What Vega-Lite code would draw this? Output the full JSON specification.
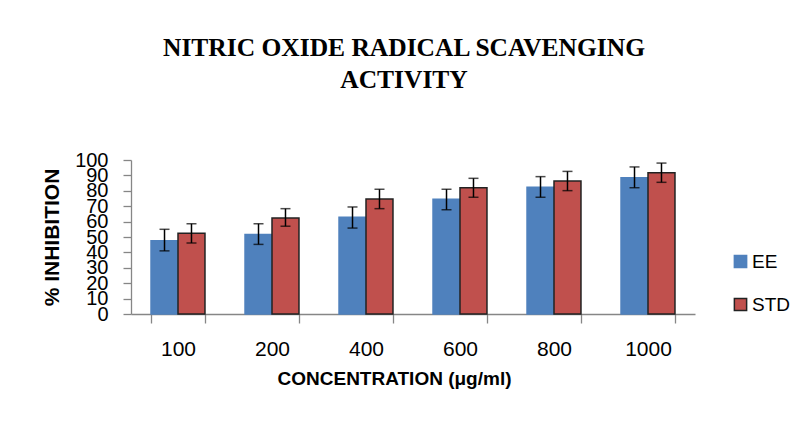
{
  "$schema": "https://vega.github.io/schema/vega-lite/v6.json",
  "autosize": {"type": "none"},
  "padding": {"left": 131, "top": 160, "right": 100, "bottom": 109},
  "width": 564,
  "height": 154,
  "background": "white",
  "title": {
    "text": ["NITRIC OXIDE RADICAL SCAVENGING", "ACTIVITY"],
    "font": "Liberation Serif",
    "fontSize": 25.5,
    "fontWeight": "bold",
    "lineHeight": 32,
    "color": "#000000",
    "anchor": "middle",
    "frame": "group",
    "dx": -9,
    "offset": 57
  },
  "data": {
    "values": [
      {"conc": "100", "group": "EE", "value": 47.6, "lo": 41.0, "hi": 55.0},
      {"conc": "100", "group": "STD", "value": 52.4, "lo": 46.1, "hi": 58.6},
      {"conc": "200", "group": "EE", "value": 51.7, "lo": 45.2, "hi": 58.6},
      {"conc": "200", "group": "STD", "value": 62.3, "lo": 57.0, "hi": 68.4},
      {"conc": "400", "group": "EE", "value": 62.8, "lo": 55.8, "hi": 69.5},
      {"conc": "400", "group": "STD", "value": 74.7, "lo": 68.4, "hi": 81.0},
      {"conc": "600", "group": "EE", "value": 74.5, "lo": 67.7, "hi": 81.0},
      {"conc": "600", "group": "STD", "value": 82.0, "lo": 75.8, "hi": 88.1},
      {"conc": "800", "group": "EE", "value": 82.3, "lo": 75.8, "hi": 89.2},
      {"conc": "800", "group": "STD", "value": 86.4, "lo": 80.1, "hi": 92.6},
      {"conc": "1000", "group": "EE", "value": 88.5, "lo": 82.0, "hi": 95.5},
      {"conc": "1000", "group": "STD", "value": 91.8, "lo": 85.5, "hi": 98.0}
    ]
  },
  "encoding": {
    "x": {
      "field": "conc",
      "type": "ordinal",
      "sort": ["100", "200", "400", "600", "800", "1000"],
      "scale": {"paddingInner": 0.426, "paddingOuter": 0.213},
      "axis": {
        "title": "CONCENTRATION (μg/ml)",
        "titleFont": "Liberation Sans",
        "titleFontSize": 19,
        "titleFontWeight": "bold",
        "titleColor": "#000000",
        "titlePadding": 10,
        "titleX": 263,
        "labelFont": "Liberation Sans",
        "labelFontSize": 21,
        "labelColor": "#000000",
        "labelAngle": 0,
        "labelPadding": 15,
        "tickBand": "extent",
        "tickSize": 9,
        "tickColor": "#868686",
        "domainColor": "#868686",
        "domainWidth": 1.3,
        "tickWidth": 1.3
      }
    },
    "xOffset": {
      "field": "group",
      "type": "nominal",
      "scale": {"domain": ["EE", "STD"], "paddingInner": 0, "paddingOuter": 0}
    }
  },
  "layer": [
    {
      "mark": {"type": "bar", "strokeWidth": 1.5},
      "encoding": {
        "y": {
          "field": "value",
          "type": "quantitative",
          "scale": {"domain": [0, 100], "nice": false},
          "axis": {
            "title": "% INHIBITION",
            "titleFont": "Liberation Sans",
            "titleFontSize": 21,
            "titleFontWeight": "bold",
            "titleColor": "#000000",
            "titlePadding": 12,
            "values": [0, 10, 20, 30, 40, 50, 60, 70, 80, 90, 100],
            "labelFont": "Liberation Sans",
            "labelFontSize": 20,
            "labelColor": "#000000",
            "labelPadding": 15,
            "labelOverlap": false,
            "tickSize": 8,
            "tickColor": "#868686",
            "domainColor": "#868686",
            "domainWidth": 1.3,
            "tickWidth": 1.3,
            "grid": false
          }
        },
        "color": {
          "field": "group",
          "type": "nominal",
          "scale": {"domain": ["EE", "STD"], "range": ["#4F81BD", "#C0504D"]},
          "legend": {
            "title": null,
            "orient": "none",
            "legendX": 600,
            "legendY": 92,
            "symbolType": "square",
            "symbolSize": 150,
            "symbolStrokeWidth": 1.5,
            "labelFont": "Liberation Sans",
            "labelFontSize": 19,
            "labelColor": "#000000",
            "labelOffset": 2,
            "rowPadding": 23
          }
        },
        "stroke": {
          "field": "group",
          "type": "nominal",
          "scale": {"domain": ["EE", "STD"], "range": ["#4F81BD", "#222222"]},
          "legend": {
            "title": null,
            "orient": "none",
            "legendX": 600,
            "legendY": 92,
            "symbolType": "square",
            "symbolSize": 150,
            "symbolStrokeWidth": 1.5,
            "labelFont": "Liberation Sans",
            "labelFontSize": 19,
            "labelColor": "#000000",
            "labelOffset": 2,
            "rowPadding": 23
          }
        }
      }
    },
    {
      "mark": {"type": "rule", "color": "#000000", "strokeWidth": 1.5},
      "encoding": {
        "y": {
          "field": "lo",
          "type": "quantitative",
          "scale": {"domain": [0, 100], "nice": false},
          "axis": {
            "title": "% INHIBITION",
            "titleFont": "Liberation Sans",
            "titleFontSize": 21,
            "titleFontWeight": "bold",
            "titleColor": "#000000",
            "titlePadding": 12,
            "values": [0, 10, 20, 30, 40, 50, 60, 70, 80, 90, 100],
            "labelFont": "Liberation Sans",
            "labelFontSize": 20,
            "labelColor": "#000000",
            "labelPadding": 15,
            "labelOverlap": false,
            "tickSize": 8,
            "tickColor": "#868686",
            "domainColor": "#868686",
            "domainWidth": 1.3,
            "tickWidth": 1.3,
            "grid": false
          }
        },
        "y2": {"field": "hi"}
      }
    },
    {
      "mark": {"type": "tick", "color": "#000000", "thickness": 1.5, "size": 10, "orient": "horizontal"},
      "encoding": {
        "y": {
          "field": "lo",
          "type": "quantitative",
          "scale": {"domain": [0, 100], "nice": false},
          "axis": {
            "title": "% INHIBITION",
            "titleFont": "Liberation Sans",
            "titleFontSize": 21,
            "titleFontWeight": "bold",
            "titleColor": "#000000",
            "titlePadding": 12,
            "values": [0, 10, 20, 30, 40, 50, 60, 70, 80, 90, 100],
            "labelFont": "Liberation Sans",
            "labelFontSize": 20,
            "labelColor": "#000000",
            "labelPadding": 15,
            "labelOverlap": false,
            "tickSize": 8,
            "tickColor": "#868686",
            "domainColor": "#868686",
            "domainWidth": 1.3,
            "tickWidth": 1.3,
            "grid": false
          }
        }
      }
    },
    {
      "mark": {"type": "tick", "color": "#000000", "thickness": 1.5, "size": 10, "orient": "horizontal"},
      "encoding": {
        "y": {
          "field": "hi",
          "type": "quantitative",
          "scale": {"domain": [0, 100], "nice": false},
          "axis": {
            "title": "% INHIBITION",
            "titleFont": "Liberation Sans",
            "titleFontSize": 21,
            "titleFontWeight": "bold",
            "titleColor": "#000000",
            "titlePadding": 12,
            "values": [0, 10, 20, 30, 40, 50, 60, 70, 80, 90, 100],
            "labelFont": "Liberation Sans",
            "labelFontSize": 20,
            "labelColor": "#000000",
            "labelPadding": 15,
            "labelOverlap": false,
            "tickSize": 8,
            "tickColor": "#868686",
            "domainColor": "#868686",
            "domainWidth": 1.3,
            "tickWidth": 1.3,
            "grid": false
          }
        }
      }
    }
  ],
  "config": {
    "view": {"stroke": null}
  }
}
